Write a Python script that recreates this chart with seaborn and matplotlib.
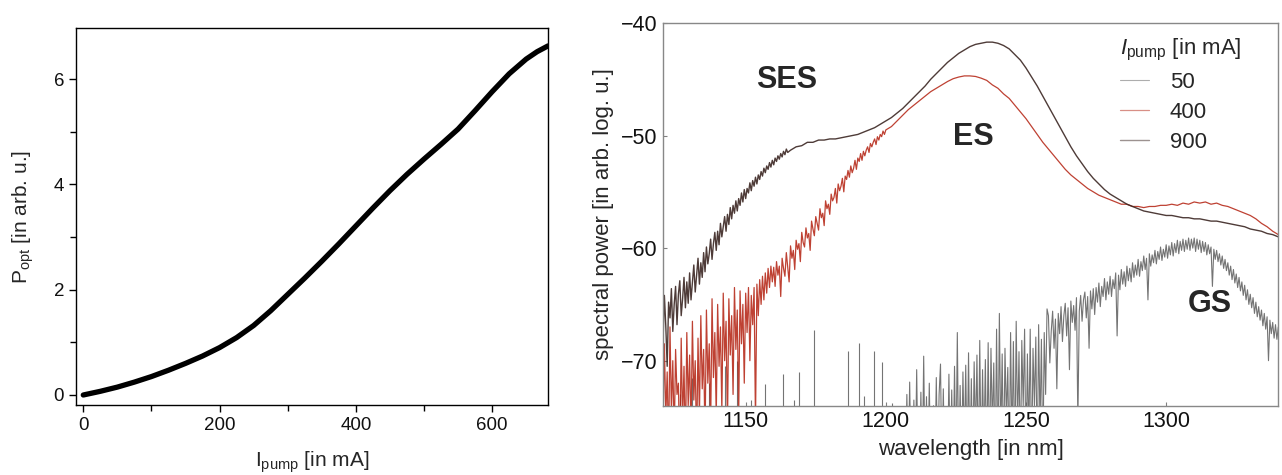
import numpy as np
import matplotlib
matplotlib.use("Agg")
import matplotlib.pyplot as plt
from matplotlib.ticker import MultipleLocator
import seaborn as sns

# ---------------- data: left panel (L-I curve) ----------------
i_pump = [0, 25, 50, 75, 100, 125, 150, 175, 200, 225, 250, 275, 300, 325, 350,
          375, 400, 425, 450, 475, 500, 525, 550, 575, 600, 625, 650, 666, 682]
p_opt = [0.0, 0.07, 0.15, 0.245, 0.35, 0.47, 0.60, 0.74, 0.90, 1.09, 1.32, 1.60, 1.91,
         2.22, 2.54, 2.87, 3.21, 3.55, 3.88, 4.19, 4.48, 4.76, 5.05, 5.40, 5.76, 6.10,
         6.38, 6.52, 6.63]

# ---------------- data: right panel (spectra, dB) ----------------
# 900 mA: 0.5 nm samples from 1120 nm, then 2 nm samples from 1166 nm
p900_a = [-65.0, -68.5, -64.2, -66.9, -70.5, -64.8, -66.2, -63.6, -67.4, -65.0, -63.4,
          -66.8, -64.1, -62.9, -66.0, -64.5, -62.6, -65.3, -63.0, -64.9, -62.2, -64.6,
          -63.1, -61.5, -63.9, -62.4, -60.9, -63.2, -61.3, -62.6, -60.4, -62.1, -59.9,
          -61.4, -60.5, -59.2, -61.0, -59.6, -58.6, -60.2, -58.5, -59.7, -57.8, -59.0,
          -58.1, -57.2, -58.5, -57.0, -57.9, -56.4, -57.4, -56.2, -56.9, -55.8, -56.7,
          -55.6, -56.2, -55.1, -55.9, -54.8, -55.6, -54.7, -55.1, -54.2, -54.9, -54.0,
          -54.5, -53.7, -54.3, -53.5, -53.9, -53.2, -53.6, -52.9, -53.3, -52.7, -53.0,
          -52.4, -52.8, -52.2, -52.6, -52.0, -52.3, -51.8, -52.1, -51.6, -51.9, -51.4,
          -51.7, -51.2, -51.5]
p900_b = [-51.3, -51.0, -50.9, -50.6, -50.6, -50.4, -50.4, -50.3, -50.3,
          -50.2, -50.1, -50.0, -49.9, -49.7, -49.5, -49.3, -49.0, -48.7, -48.4, -48.0,
          -47.6, -47.1, -46.6, -46.1, -45.6, -45.0, -44.5, -44.0, -43.5, -43.1, -42.7,
          -42.4, -42.1, -41.9, -41.8, -41.7, -41.7, -41.8, -42.0, -42.3, -42.8, -43.3,
          -44.0, -44.8, -45.6, -46.5, -47.4, -48.3, -49.2, -50.1, -51.0, -51.8, -52.5,
          -53.2, -53.8, -54.3, -54.8, -55.2, -55.5, -55.8, -56.1, -56.3, -56.5, -56.7,
          -56.8, -56.9, -57.0, -57.1, -57.1, -57.2, -57.3, -57.3, -57.4, -57.4, -57.5,
          -57.6, -57.6, -57.7, -57.8, -57.9, -58.0, -58.1, -58.3, -58.4, -58.5, -58.7,
          -58.8, -59.0]

# 400 mA: 0.5 nm samples from 1120 nm, then 2 nm samples from 1202 nm
p400_a = [-70.5, -76.0, -68.5, -75.0, -71.0, -78.0, -67.0, -74.5, -70.0, -77.0, -69.0,
          -73.0, -72.0, -79.0, -68.0, -75.5, -70.5, -78.0, -67.5, -74.0, -69.5, -76.5,
          -66.5, -73.5, -70.0, -78.0, -68.0, -75.0, -66.0, -72.5, -69.0, -77.0, -65.5,
          -72.0, -68.5, -76.0, -64.5, -71.5, -67.5, -75.0, -65.0, -70.5, -67.0, -74.5,
          -64.0, -70.0, -66.5, -76.0, -64.5, -69.5, -66.0, -73.0, -63.5, -69.0, -65.5,
          -75.0, -63.8, -68.5, -65.0, -72.0, -64.0, -67.5, -63.5, -70.0, -64.2, -66.8,
          -63.5, -75.5, -63.2, -66.0, -62.8, -65.0, -62.5, -64.6, -62.2, -64.0, -61.8,
          -63.5, -61.6, -63.0, -61.7,
          -63.4, -61.2, -62.4, -61.6, -64.3, -60.9, -61.8, -62.5, -60.4, -61.7, -63.0,
          -59.8, -60.9, -60.2, -61.9, -59.3, -60.1, -59.6, -61.2, -58.6, -59.5, -59.9,
          -58.2, -59.1, -58.7, -60.2, -57.6, -58.3, -58.9, -57.2, -57.8, -58.4, -56.5,
          -57.3, -56.9, -58.0, -55.8, -56.5, -56.1, -57.0, -55.2, -55.8, -55.5, -54.7,
          -56.0, -54.3, -54.9, -54.5, -53.8, -55.0, -53.6, -53.9, -53.1, -53.7, -52.7,
          -53.3, -52.9, -52.2, -53.0, -52.0, -52.3, -51.6, -52.2, -51.4, -51.8, -51.3,
          -51.0, -51.5, -50.7, -51.0, -50.6, -50.3, -50.8, -50.1, -50.4, -49.9, -50.1,
          -49.6, -49.9, -49.5]
p400_b = [-49.2, -48.7, -48.2, -47.7, -47.3, -46.9, -46.5, -46.1, -45.8, -45.5,
          -45.2, -44.95, -44.8, -44.7, -44.7, -44.75, -44.9, -45.1, -45.5, -45.8, -46.3,
          -46.7, -47.3, -47.9, -48.5, -49.2, -49.9, -50.6, -51.2, -51.8, -52.4, -53.0,
          -53.5, -53.9, -54.3, -54.7, -55.0, -55.3, -55.5, -55.7, -55.9, -56.1, -56.1,
          -56.3, -56.3, -56.4, -56.3, -56.3, -56.2, -56.2, -56.1, -56.2, -56.0, -56.1,
          -55.9, -56.0, -55.9, -56.1, -56.0, -56.2, -56.3, -56.5, -56.7, -56.9, -57.1,
          -57.4, -57.8, -58.1, -58.5, -58.8]

# 50 mA: isolated noise spikes below 1205 nm
spk50_wl = [1126.5, 1131.0, 1137.0, 1142.5, 1147.0, 1152.0, 1156.8, 1163.2, 1167.4,
            1169.1, 1174.4, 1182.2, 1186.4, 1190.4, 1192.1, 1195.6, 1198.5, 1202.3]
spk50_db = [-73.0, -71.5, -72.0, -70.5, -70.0, -73.5, -72.1, -71.2, -73.5, -71.0,
            -67.3, -74.3, -69.1, -68.4, -73.1, -69.1, -70.1, -73.8]
# 50 mA: 0.5 nm samples from 1205 nm to 1340 nm
p50_a = [-80, -74.5, -80, -80, -80, -73, -80, -71.9, -80, -80, -73.5, -80, -70.8, -80,
         -80, -72.8, -80, -69.6, -80, -73.2, -80, -72, -80, -80, -74, -80, -71.5, -80,
         -73, -70.3, -80, -72.5, -80, -74.2, -80, -71.2, -80, -72.6, -80, -70.5, -80,
         -67.5, -80, -72.2, -80, -71, -78, -70.4, -80, -69.3, -80, -71.6, -80, -70.1,
         -77, -69.5, -80, -68.2, -80, -70.8, -78, -69.9, -80, -68.4, -80, -68.9, -76,
         -70.2, -80, -67.2, -80, -65.8, -77, -69.4, -80, -68.9, -75, -70.6, -80, -67.5,
         -78, -68.3, -80, -66.5, -76, -69.2, -80, -68.2, -74, -67.2, -80, -69.4, -77,
         -67.2, -80, -68.9, -74, -67.9, -80, -66.8, -76, -68.1, -80, -67.5, -73, -65.4]
p50_b = [-66.0, -70.2, -67.4, -65.6, -68.9, -66.3, -72.5, -65.8, -67.6, -65.2, -68.3,
         -66.0, -64.9, -67.8, -65.3, -70.8, -64.7, -66.6, -65.1, -67.3, -64.4, -75.5,
         -65.6, -64.2, -66.5, -64.6, -63.9, -66.2, -64.3, -68.9, -63.8, -65.4, -63.6,
         -65.9, -63.5, -64.8, -63.1, -65.2, -63.4, -64.3, -62.7, -64.6, -63.0, -64.1,
         -62.5, -64.3, -62.8, -63.6, -62.2, -67.8, -62.4, -63.7, -61.9, -63.2, -62.1,
         -63.4, -61.6, -62.9, -61.8, -63.0, -61.3, -62.6, -61.5, -62.4, -61.0, -62.5,
         -61.2, -62.0, -60.7, -61.9, -60.9, -64.6, -60.5, -61.6, -60.6, -61.3, -60.2,
         -61.4, -60.3, -61.0, -59.9, -61.1, -60.1, -60.8, -59.7, -60.9, -59.8, -60.6,
         -59.5, -60.7, -59.6, -60.4, -59.3, -60.5, -59.4, -60.2, -59.2, -60.3, -59.3,
         -60.1, -59.1, -60.2, -59.2, -60.0, -59.1, -60.3, -59.2, -60.1, -59.3, -60.4,
         -59.4, -60.3, -59.5, -60.6, -59.7, -60.5, -59.9, -63.4, -60.1, -61.0, -60.2,
         -61.2, -60.5, -61.5, -60.7, -61.8, -61.0, -62.0, -61.3, -62.4, -61.6, -62.8,
         -61.9, -63.1, -62.3, -63.5, -62.6, -63.8, -63.0, -64.2, -63.3, -64.6, -63.7,
         -65.0, -64.1, -65.3, -64.4, -65.8, -64.8, -66.1, -65.2, -66.4, -65.5, -66.9,
         -65.8, -67.2, -66.1, -70.0, -66.4, -67.6, -66.6, -68.0, -66.8, -68.1, -67.0]

legend_labels = ["50", "400", "900"]
colors = ["#5c5c5c", "#b3200f", "#3b2622"]

# sampling grids (wavelength of each sample)
wl900 = np.concatenate([1120 + 0.5 * np.arange(len(p900_a)), 1166 + 2.0 * np.arange(len(p900_b))])
wl400 = np.concatenate([1120 + 0.5 * np.arange(len(p400_a)), 1202 + 2.0 * np.arange(len(p400_b))])
wl50 = np.concatenate([1205 + 0.5 * np.arange(len(p50_a)), 1258 + 0.5 * np.arange(len(p50_b))])
p900 = np.array(p900_a + p900_b)
p400 = np.array(p400_a + p400_b)
p50 = np.array(p50_a + p50_b)

# ---------------- style ----------------
sns.set_theme(style="ticks")
plt.rcParams["font.family"] = ["Liberation Sans", "DejaVu Sans"]
plt.rcParams["mathtext.fontset"] = "custom"
plt.rcParams["mathtext.rm"] = "Liberation Sans"
plt.rcParams["mathtext.it"] = "Liberation Sans:italic"
plt.rcParams["axes.unicode_minus"] = True

W, H = 1282, 475
fig = plt.figure(figsize=(W / 100, H / 100), dpi=100)
ax1 = fig.add_axes([76 / W, 70 / H, 472 / W, 377 / H])
ax2 = fig.add_axes([662.7 / W, 69.3 / H, 615.6 / W, 382.7 / H])

# ---------------- left panel ----------------
sns.lineplot(x=i_pump, y=p_opt, ax=ax1, color="black", linewidth=3.8,
             solid_capstyle="round", solid_joinstyle="round", estimator=None)
ax1.set_xlim(-10.7, 682)
ax1.set_ylim(-0.19, 6.97)
ax1.xaxis.set_major_locator(MultipleLocator(200))
ax1.xaxis.set_minor_locator(MultipleLocator(100))
ax1.yaxis.set_major_locator(MultipleLocator(2))
ax1.yaxis.set_minor_locator(MultipleLocator(1))
ax1.tick_params(which="major", direction="out", length=5, width=1, labelsize=13.5,
                color="black", labelcolor="#111111")
ax1.tick_params(which="minor", direction="out", length=4, width=1, color="black")
for s in ax1.spines.values():
    s.set_visible(True)
    s.set_color("black")
    s.set_linewidth(1.0)
ax1.set_xlabel(r"$\mathregular{I_{pump}}$ [in mA]", fontsize=15, labelpad=11)
ax1.set_ylabel(r"$\mathregular{P_{opt}}$ [in arb. u.]", fontsize=15, labelpad=13)

# ---------------- right panel ----------------
ax2.vlines(spk50_wl, -80, spk50_db, color=colors[0], linewidth=0.8, alpha=0.85)
sns.lineplot(x=wl50, y=p50, ax=ax2, color=colors[0], linewidth=0.8, alpha=0.85,
             label=legend_labels[0], estimator=None)
sns.lineplot(x=wl400, y=p400, ax=ax2, color=colors[1], linewidth=0.9, alpha=0.85,
             label=legend_labels[1], estimator=None)
sns.lineplot(x=wl900, y=p900, ax=ax2, color=colors[2], linewidth=1.0, alpha=0.9,
             label=legend_labels[2], estimator=None)

ax2.set_xlim(1120.4, 1340)
ax2.set_ylim(-74, -40)
ax2.xaxis.set_major_locator(MultipleLocator(50))
ax2.yaxis.set_major_locator(MultipleLocator(10))
ax2.tick_params(which="major", direction="in", length=3, width=0.8, labelsize=15.5,
                color="#808080", labelcolor="#111111")
for s in ax2.spines.values():
    s.set_visible(True)
    s.set_color("#888888")
    s.set_linewidth(1.0)
ax2.set_xlabel("wavelength [in nm]", fontsize=16, labelpad=5)
ax2.set_ylabel("spectral power [in arb. log. u.]", fontsize=16, labelpad=5)

ax2.text(1164.8, -45.1, "SES", fontsize=22, fontweight="bold", ha="center", va="center")
ax2.text(1231.2, -50.1, "ES", fontsize=22, fontweight="bold", ha="center", va="center")
ax2.text(1315.5, -65.0, "GS", fontsize=22, fontweight="bold", ha="center", va="center")

leg = ax2.legend(title=r"$\mathit{I}_{\mathregular{pump}}$ [in mA]", loc="upper left",
                 bbox_to_anchor=(0.71, 1.015), frameon=False, fontsize=16,
                 title_fontsize=16, handlelength=1.3, handletextpad=0.95,
                 labelspacing=0.4, alignment="left")
for ln in leg.get_lines():
    ln.set_alpha(0.5)

fig.savefig("out.png", dpi=100)
